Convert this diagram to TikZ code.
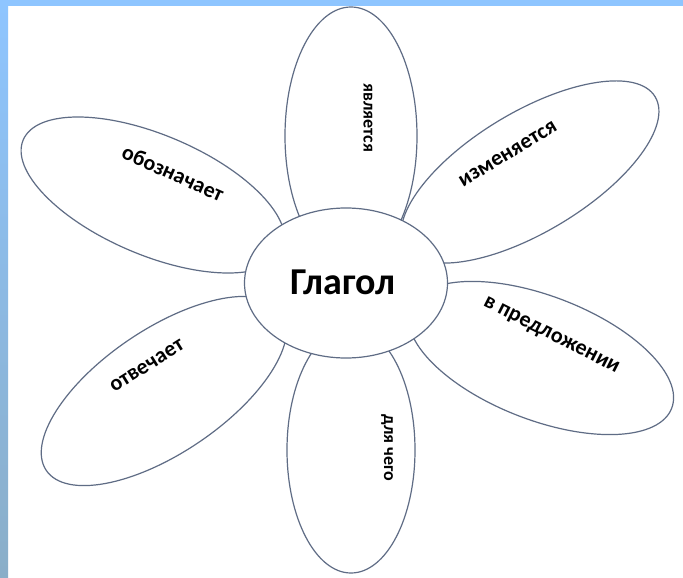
\documentclass[tikz,border=0pt]{standalone}
\usepackage{fontspec}
\setmainfont{Carlito}
\usetikzlibrary{shapes.geometric}
\definecolor{edge}{HTML}{5F6C85}
\definecolor{skyA}{HTML}{8EC5FF}
\definecolor{skyB}{HTML}{8AAEC8}
\tikzset{
  petal/.style={ellipse, draw=edge, fill=white, line width=1.2pt, inner sep=0pt, outer sep=0pt},
  word/.style={font=\fontsize{22}{26}\selectfont\bfseries, text=black, inner sep=0pt},
  vword/.style={word, font=\fontsize{18}{21}\selectfont\bfseries, rotate=-90}
}
\begin{document}
\begin{tikzpicture}[x=1pt, y=-1pt]
\useasboundingbox (0,0) rectangle (683,578);
\fill[white] (0,0) rectangle (683,578);
\shade[top color=skyA, bottom color=skyB] (0,0) rectangle (8,578);
\fill[skyA] (0,0) rectangle (683,6);
% petals
\node[petal, minimum width=132pt, minimum height=258pt] (pTop) at (351,136) {};
\node[petal, minimum width=128pt, minimum height=246pt] (pBot) at (351,450) {};
\node[petal, minimum width=292pt, minimum height=120pt, rotate=31] (pUR) at (530,172) {};
\node[petal, minimum width=280pt, minimum height=124pt, rotate=-21] (pLR) at (541,358) {};
\node[petal, minimum width=282pt, minimum height=120pt, rotate=-23] (pUL) at (153,195) {};
\node[petal, minimum width=284pt, minimum height=124pt, rotate=34] (pLL) at (164,391) {};
% center
\node[petal, minimum width=203pt, minimum height=150pt] (core) at (346,283) {};
\node[font=\fontsize{38}{42}\selectfont\bfseries, inner sep=0pt] (coreText) at (343,282) {Глагол};
% labels
\node[vword] (tTop) at (368,118) {является};
\node[word, rotate=31] (tUR) at (508,154) {изменяется};
\node[word, rotate=-27] (tLR) at (551,336) {в предложении};
\node[vword] (tBot) at (387,448) {для чего};
\node[word, rotate=-24] (tUL) at (173,173) {обозначает};
\node[word, rotate=32] (tLL) at (147,366) {отвечает};
\end{tikzpicture}
\end{document}
